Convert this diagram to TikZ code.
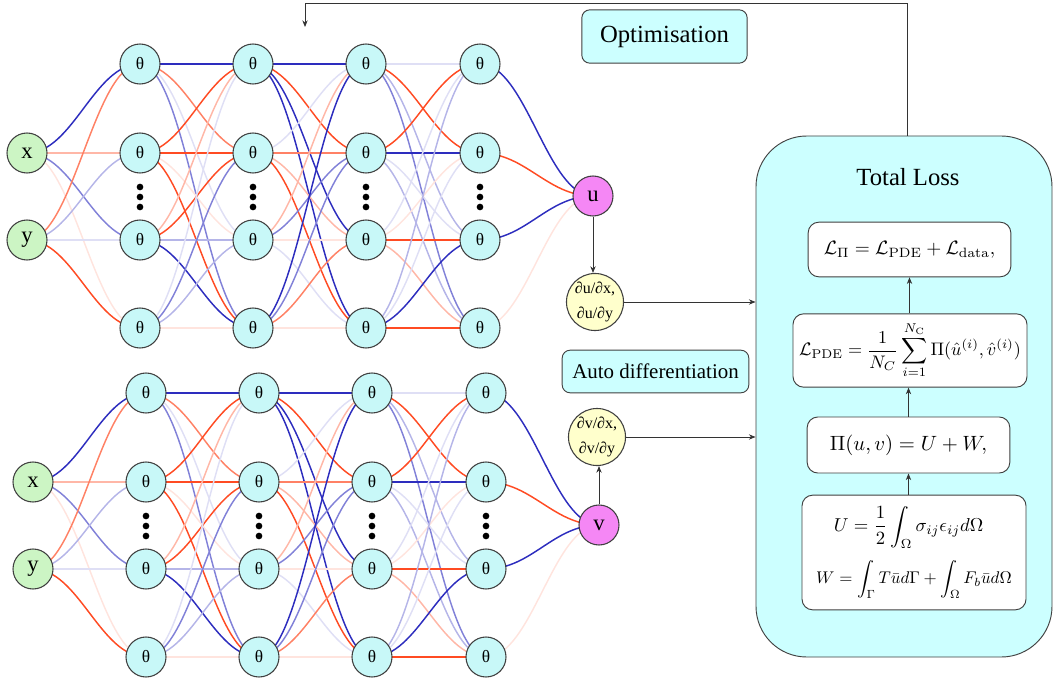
\documentclass[tikz,border=0pt]{standalone}
\usepackage{amsmath}
\usepackage{graphicx}
\usepackage[no-math]{fontspec}
\setmainfont{Liberation Serif}
\usetikzlibrary{arrows.meta,backgrounds}
\definecolor{eblue}{RGB}{45,45,190}
\definecolor{ered}{RGB}{255,75,35}
\definecolor{thetafill}{RGB}{200,248,248}
\definecolor{infill}{RGB}{204,245,196}
\definecolor{outfill}{RGB}{245,135,245}
\definecolor{dfill}{RGB}{255,255,204}
\definecolor{boxfill}{RGB}{204,255,255}
\tikzset{
 neuron/.style={circle,draw=black!75,line width=0.8pt,minimum size=30pt,inner sep=0pt,fill=thetafill,font=\fontsize{13}{13}\selectfont},
 inneuron/.style={neuron,fill=infill,font=\fontsize{17}{17}\selectfont},
 outneuron/.style={neuron,fill=outfill,font=\fontsize{17}{17}\selectfont},
 dnode/.style={circle,draw=black!75,line width=0.8pt,minimum size=42pt,inner sep=0pt,fill=dfill,align=center,font=\fontsize{12}{19}\selectfont},
 labelbox/.style={draw=black!75,line width=0.7pt,rounded corners=6pt,fill=boxfill,inner sep=0pt},
 fbox/.style={draw=black!75,line width=0.7pt,rounded corners=8pt,fill=white,inner sep=0pt,align=center},
 wire/.style={line width=1.1pt},
 bs/.style={wire,draw=eblue},
 bm/.style={wire,draw=eblue!60},
 bl/.style={wire,draw=eblue!35},
 bf/.style={wire,draw=eblue!15},
 rs/.style={wire,draw=ered},
 rm/.style={wire,draw=ered!70},
 rl/.style={wire,draw=ered!40},
 rf/.style={wire,draw=ered!15},
 arr/.style={draw=black!80,line width=0.6pt,-{Stealth[length=5pt,width=4pt]}},
 dotc/.style={circle,fill=black,inner sep=0pt,minimum size=5pt}
}
\newcommand\mknet[3]{%
 \begin{scope}[shift={#2}]
 \node[inneuron] (#1i1) at (27,153) {x};
 \node[inneuron] (#1i2) at (27,240) {y};
 \foreach \l/\x in {1/140,2/253,3/366,4/480}{
   \foreach \r/\y in {1/64,2/153,3/240,4/328}{
     \node[neuron] (#1l\l-\r) at (\x,\y) {θ};
   }
   \node[dotc] (#1d\l a) at (\x,187) {};
   \node[dotc] (#1d\l b) at (\x,197) {};
   \node[dotc] (#1d\l c) at (\x,207) {};
 }
 \node[outneuron] (#1o) at (593,196) {#3};
 \end{scope}
 \begin{pgfonlayer}{background}
 \foreach \a/\b/\s in {1/1/bs,1/2/rl,1/3/bm,1/4/rf,2/1/rm,2/2/bl,2/3/bf,2/4/rs}
   \draw[\s] (#1i\a.center) .. controls +(46,0) and +(-46,0) .. (#1l1-\b.center);
 \foreach \a/\b/\s in {1/1/bs,1/2/rm,1/3/bf,1/4/bm,2/1/rs,2/2/rs,2/3/rf,2/4/rs,3/1/rl,3/2/rs,3/3/bl,3/4/bs,4/1/bf,4/2/bm,4/3/bl,4/4/rf}
   \draw[\s] (#1l1-\a.center) .. controls +(46,0) and +(-46,0) .. (#1l2-\b.center);
 \foreach \a/\b/\s in {1/1/bs,1/2/rs,1/3/bs,1/4/bs,2/1/bf,2/2/rm,2/3/rl,2/4/rs,3/1/rl,3/2/bm,3/3/rf,3/4/bf,4/1/bs,4/2/bm,4/3/rm,4/4/rf}
   \draw[\s] (#1l2-\a.center) .. controls +(46,0) and +(-46,0) .. (#1l3-\b.center);
 \foreach \a/\b/\s in {1/1/bf,1/2/rs,1/3/bl,1/4/bm,2/1/rs,2/2/bs,2/3/bf,2/4/bl,3/1/bf,3/2/rf,3/3/rs,3/4/rl,4/1/bl,4/2/bf,4/3/bs,4/4/rs}
   \draw[\s] (#1l3-\a.center) .. controls +(46,0) and +(-46,0) .. (#1l4-\b.center);
 \foreach \a/\s in {1/bs,2/rs,3/bs,4/rf}
   \draw[\s] (#1l4-\a.center) .. controls +(46,0) and +(-46,0) .. (#1o.center);
 \end{pgfonlayer}
}
\begin{document}
\begin{tikzpicture}[x=0.75pt,y=-0.75pt]
\useasboundingbox (0,0) rectangle (1053,688);
\mknet{T}{(0,0)}{u}
\mknet{B}{(6,329)}{v}
% derivative nodes
\node[dnode] (du) at (595,302) {∂u/∂x,\\∂u/∂y};
\node[dnode] (dv) at (597,437) {∂v/∂x,\\∂v/∂y};
% label boxes
\node[labelbox,minimum width=124pt,minimum height=40pt,font=\fontsize{18.5}{18.5}\selectfont] (opt) at (664.5,36.5) {Optimisation};
\node[labelbox,minimum width=140pt,minimum height=32pt,font=\fontsize{15.7}{15.7}\selectfont] (auto) at (655.5,371.5) {Auto differentiation};
% total loss
\node[draw=black!75,line width=0.7pt,fill=boxfill,rounded corners=38pt,minimum width=222pt,minimum height=390.75pt,inner sep=0pt] (total) at (904,396.5) {};
\node[font=\fontsize{18.5}{18.5}\selectfont] (tl) at (908,177) {Total Loss};
\node[fbox,minimum width=152pt,minimum height=41pt] (f1) at (909.5,249.5) {\scalebox{1.45}{$\mathcal{L}_{\Pi}=\mathcal{L}_{\mathrm{PDE}}+\mathcal{L}_{\mathrm{data}},$}};
\node[fbox,minimum width=175.5pt,minimum height=55pt] (f2) at (910,350.5) {\scalebox{1.36}{$\displaystyle\mathcal{L}_{\mathrm{PDE}}=\frac{1}{N_C}\sum_{i=1}^{N_{\mathrm{C}}}\Pi(\hat{u}^{(i)},\hat{v}^{(i)})$}};
\node[fbox,minimum width=152pt,minimum height=42pt] (f3) at (908.5,445) {\scalebox{1.55}{$\Pi(u,v)=U+W,$}};
\node[fbox,minimum width=168pt,minimum height=86pt] (f4) at (914,552.5) {\hspace*{-8pt}\scalebox{1.4}{$\displaystyle U=\frac{1}{2}\int_{\Omega}\sigma_{ij}\epsilon_{ij}d\Omega$}\\[8pt]\scalebox{1.27}{$\displaystyle W=\int_{\Gamma}T\bar{u}d\Gamma+\int_{\Omega}F_b\bar{u}d\Omega$}};
% arrows
\draw[arr] (To) -- (To |- du.north);
\draw[arr] (Bo) -- (Bo |- dv.south);
\draw[arr] (du) -- (du -| total.west);
\draw[arr] (dv) -- (dv -| total.west);
\draw[arr] (f4.north -| f3.south) -- (f3.south);
\draw[arr] (f3.north) -- (f3.north |- f2.south);
\draw[arr] (f1.south |- f2.north) -- (f1.south);
\coordinate (fbt) at (907,3);
\coordinate (fbe) at (305,27);
\draw[arr] (fbt |- total.north) -- (fbt) -| (fbe);
\end{tikzpicture}
\end{document}
